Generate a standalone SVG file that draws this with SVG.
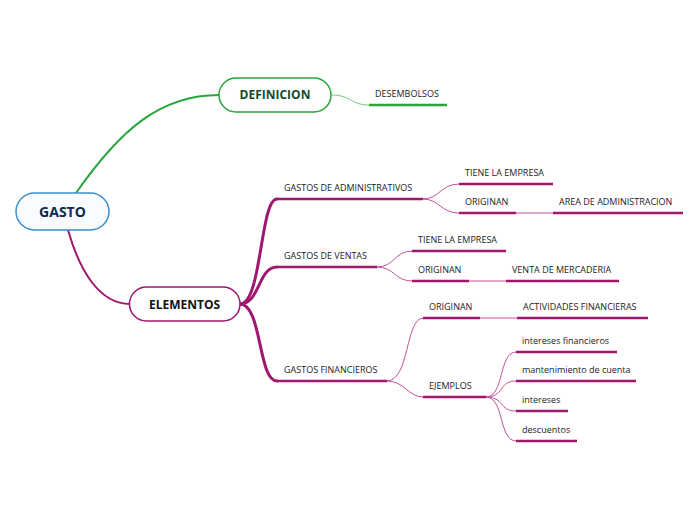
<svg xmlns="http://www.w3.org/2000/svg" width="696" height="520" viewBox="0 0 696 520">
<style>
.lbl{font-family:"Open Sans","Noto Sans","Liberation Sans",sans-serif;font-size:9px;fill:#222}
.node{font-family:"Open Sans","Noto Sans","Liberation Sans",sans-serif;font-weight:bold;text-anchor:middle}
.pk{fill:none;stroke:#a0176e;stroke-linecap:round}
.pt{fill:none;stroke:#c4529a;stroke-width:1;stroke-linecap:round}
.ul{fill:none;stroke:#a0176e;stroke-width:2.5;stroke-linecap:butt}
.gk{fill:none;stroke:#2aa63c;stroke-linecap:round}
</style>
<rect width="696" height="520" fill="#ffffff"/>
<g id="connectors">
  <path class="gk" stroke-width="2" d="M76,193 C120,130 160,95 219,95"/>
  <path class="pk" stroke-width="2" d="M68,230 C80,272 100,304 130,304"/>
  <path fill="none" stroke="#7ac87e" stroke-width="1" d="M331,95 C352,95 350,105 369,105"/>
  <path class="pk" stroke-width="3" d="M240,304 C262,304 260,199 277,199"/>
  <path class="pk" stroke-width="3" d="M240,304 C260,304 258,267 277,267"/>
  <path class="pk" stroke-width="3" d="M240,304 C262,304 258,381 277,381"/>
  <path class="pt" d="M423,199 C440,199 440,184 459,184"/>
  <path class="pt" d="M423,199 C440,199 440,213 459,213"/>
  <path class="pt" d="M516,213 L553,213"/>
  <path class="pt" d="M377,267 C395,267 394,251 412,251"/>
  <path class="pt" d="M377,267 C395,267 394,281 412,281"/>
  <path class="pt" d="M469,281 L506,281"/>
  <path class="pt" d="M387,381 C410,381 405,318 423,318"/>
  <path class="pt" d="M387,381 C405,381 408,397 423,397"/>
  <path class="pt" d="M480,318 L517,318"/>
  <path class="pt" d="M486,397 C505,397 498,352 516,352"/>
  <path class="pt" d="M486,397 C505,397 498,381 516,381"/>
  <path class="pt" d="M486,397 C505,397 498,411 516,411"/>
  <path class="pt" d="M486,397 C505,397 498,441 516,441"/>
</g>
<g id="gasto">
  <rect x="16" y="193" width="93" height="37" rx="18.5" fill="#f8fbff" stroke="#3a8fd0" stroke-width="1.5"/>
  <text class="node" x="62.5" y="217" font-size="14" fill="#0e2a4e">GASTO</text>
</g>
<g id="definicion">
  <rect x="219" y="78" width="112" height="34" rx="17" fill="#ffffff" stroke="#2aa63c" stroke-width="1.5"/>
  <text class="node" x="275" y="99" font-size="12" fill="#0d4a32">DEFINICION</text>
</g>
<g id="desembolsos">
  <line x1="369" y1="105" x2="447" y2="105" stroke="#2aa63c" stroke-width="2.5"/>
  <text class="lbl" x="375" y="97">DESEMBOLSOS</text>
</g>
<g id="elementos">
  <rect x="129.5" y="287" width="110.5" height="34" rx="17" fill="#ffffff" stroke="#a0176e" stroke-width="1.5"/>
  <text class="node" x="184.5" y="309" font-size="12" fill="#111111">ELEMENTOS</text>
</g>
<g id="gastos-admin">
  <line class="ul" x1="277" y1="199" x2="423" y2="199"/>
  <text class="lbl" x="284" y="191">GASTOS DE ADMINISTRATIVOS</text>
</g>
<g id="admin-tiene">
  <line class="ul" x1="459" y1="184" x2="553" y2="184"/>
  <text class="lbl" x="465" y="176">TIENE LA EMPRESA</text>
</g>
<g id="admin-originan">
  <line class="ul" x1="459" y1="213" x2="516" y2="213"/>
  <text class="lbl" x="465" y="205">ORIGINAN</text>
</g>
<g id="admin-area">
  <line class="ul" x1="553" y1="213" x2="683" y2="213"/>
  <text class="lbl" x="559" y="205">AREA DE ADMINISTRACION</text>
</g>
<g id="gastos-ventas">
  <line class="ul" x1="277" y1="267" x2="377" y2="267"/>
  <text class="lbl" x="284" y="259">GASTOS DE VENTAS</text>
</g>
<g id="ventas-tiene">
  <line class="ul" x1="412" y1="251" x2="506" y2="251"/>
  <text class="lbl" x="418" y="243">TIENE LA EMPRESA</text>
</g>
<g id="ventas-originan">
  <line class="ul" x1="412" y1="281" x2="469" y2="281"/>
  <text class="lbl" x="418" y="273">ORIGINAN</text>
</g>
<g id="ventas-mercaderia">
  <line class="ul" x1="506" y1="281" x2="619" y2="281"/>
  <text class="lbl" x="512" y="273">VENTA DE MERCADERIA</text>
</g>
<g id="gastos-financieros">
  <line class="ul" x1="277" y1="381" x2="387" y2="381"/>
  <text class="lbl" x="284" y="373">GASTOS FINANCIEROS</text>
</g>
<g id="fin-originan">
  <line class="ul" x1="423" y1="318" x2="480" y2="318"/>
  <text class="lbl" x="429" y="310">ORIGINAN</text>
</g>
<g id="fin-actividades">
  <line class="ul" x1="517" y1="318" x2="648" y2="318"/>
  <text class="lbl" x="523" y="310">ACTIVIDADES FINANCIERAS</text>
</g>
<g id="fin-ejemplos">
  <line class="ul" x1="423" y1="397" x2="486" y2="397"/>
  <text class="lbl" x="429" y="389">EJEMPLOS</text>
</g>
<g id="ej-intereses-financieros">
  <line class="ul" x1="516" y1="352" x2="617" y2="352"/>
  <text class="lbl" x="522" y="344">intereses financieros</text>
</g>
<g id="ej-mantenimiento">
  <line class="ul" x1="516" y1="381" x2="636" y2="381"/>
  <text class="lbl" x="522" y="373">mantenimiento de cuenta</text>
</g>
<g id="ej-intereses">
  <line class="ul" x1="516" y1="411" x2="568" y2="411"/>
  <text class="lbl" x="522" y="403">intereses</text>
</g>
<g id="ej-descuentos">
  <line class="ul" x1="516" y1="441" x2="577" y2="441"/>
  <text class="lbl" x="522" y="433">descuentos</text>
</g>
</svg>
